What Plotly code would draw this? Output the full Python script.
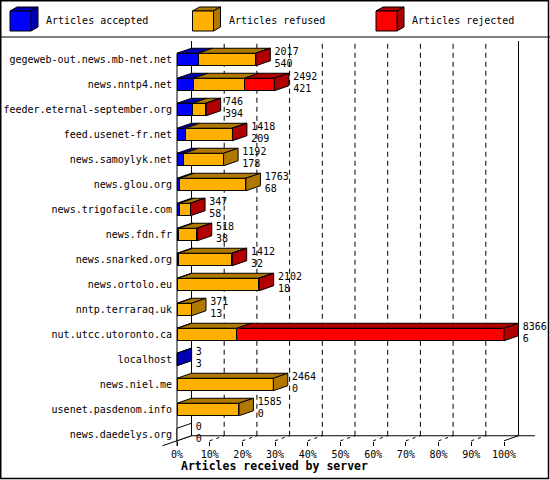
import plotly.graph_objects as go

servers = ["gegeweb-out.news.mb-net.net", "news.nntp4.net", "feeder.eternal-september.org",
           "feed.usenet-fr.net", "news.samoylyk.net", "news.glou.org", "news.trigofacile.com",
           "news.fdn.fr", "news.snarked.org", "news.ortolo.eu", "nntp.terraraq.uk",
           "nut.utcc.utoronto.ca", "localhost", "news.niel.me", "usenet.pasdenom.info",
           "news.daedelys.org"]
totals = [2017, 2492, 746, 1418, 1192, 1763, 347, 518, 1412, 2102, 371, 8366, 3, 2464, 1585, 0]
accepted = [540, 421, 394, 209, 178, 68, 58, 38, 32, 18, 13, 6, 3, 0, 0, 0]
refused = [1467, 1304, 340, 1200, 1014, 1695, 280, 472, 1370, 2074, 358, 1527, 0, 2464, 1585, 0]
rejected = [10, 767, 12, 9, 0, 0, 9, 8, 10, 10, 0, 6833, 0, 0, 0, 0]
tick_pcts = [0, 10, 20, 30, 40, 50, 60, 70, 80, 90, 100]
series_names = ["Articles accepted", "Articles refused", "Articles rejected"]

front_col = ["#0000FF", "#FFB000", "#FF0000"]
dark_col = ["#0000B0", "#B07800", "#B00000"]
FONT = "DejaVu Sans Mono"

# pixel geometry of the picture
W, HGT = 550, 480
L, R, T, B = 173, 548, 38, 441
PX0, PPU = 177, 3.27          # pixel of 0%, pixels per percent
ROW0, PITCH = 59.5, 25        # pixel of first row centre, row pitch
DX = 14.5 / PPU               # depth offset in percent
DY = 5.0 / PITCH              # depth offset in rows
H = 0.25                      # half height of a bar front

xr = [(L - PX0) / PPU, (R - PX0) / PPU]
yr = [(B - ROW0) / PITCH, (T - ROW0) / PITCH]


def pxx(px):
    return (px - L) / (R - L)


def pxy(py):
    return (B - py) / (B - T)


def dx2p(x):
    return pxx(PX0 + PPU * x)


def dy2p(y):
    return pxy(ROW0 + PITCH * y)


scale = 100.0 / max(totals)
segs = [[v * scale for v in s] for s in (accepted, refused, rejected)]
rows = list(range(len(servers)))
last = len(servers) - 1

fig = go.Figure()

# front faces
for k in range(3):
    fig.add_trace(go.Bar(y=rows, x=segs[k], orientation="h", width=2 * H,
                         marker=dict(color=front_col[k], line=dict(color="black", width=1)),
                         showlegend=False, hoverinfo="skip"))

# top faces
for k in range(3):
    xs, ys = [], []
    for i in rows:
        x0 = sum(segs[j][i] for j in range(k))
        w = segs[k][i]
        if w > 0:
            x1 = x0 + w
            xs += [x0, x1, x1 + DX, x0 + DX, x0, None]
            ys += [i - H, i - H, i - H - DY, i - H - DY, i - H, None]
    fig.add_trace(go.Scatter(x=xs, y=ys, mode="lines", fill="toself", fillcolor=dark_col[k],
                             line=dict(color="black", width=1), showlegend=False, hoverinfo="skip"))

# side faces, coloured like the last non-empty segment
for k in range(-1, 3):
    xs, ys = [], []
    for i in rows:
        nz = [j for j in range(3) if segs[j][i] > 0]
        lastk = nz[-1] if nz else -1
        if lastk != k:
            continue
        xe = sum(segs[j][i] for j in range(3))
        xs += [xe, xe + DX, xe + DX, xe, xe, None]
        ys += [i - H, i - H - DY, i + H - DY, i + H, i - H, None]
    fig.add_trace(go.Scatter(x=xs, y=ys, mode="lines", fill="toself",
                             fillcolor=dark_col[k] if k >= 0 else "white",
                             line=dict(color="black", width=1), showlegend=False, hoverinfo="skip"))

# value labels
lab_x = [t * scale + DX + 1.3 for t in totals]
fig.add_trace(go.Scatter(x=lab_x, y=[i - 0.3 for i in rows], mode="text", text=[str(v) for v in totals],
                         textposition="middle right", textfont=dict(family=FONT, size=10, color="black"),
                         cliponaxis=False, showlegend=False, hoverinfo="skip"))
fig.add_trace(go.Scatter(x=lab_x, y=[i + 0.2 for i in rows], mode="text", text=[str(v) for v in accepted],
                         textposition="middle right", textfont=dict(family=FONT, size=10, color="black"),
                         cliponaxis=False, showlegend=False, hoverinfo="skip"))

shapes = []
floor_front = last + H
floor_back = floor_front - DY
top_y = (41 - ROW0) / PITCH
for t in tick_pcts:
    solid = t in (0, 100)
    # back wall lines
    shapes.append(dict(type="line", xref="paper", yref="paper", layer="below",
                       x0=dx2p(t + DX), x1=dx2p(t + DX), y0=dy2p(floor_back), y1=dy2p(top_y),
                       line=dict(color="black", width=1, dash="solid" if solid else "5px,4px")))
    # floor diagonals
    xa = -DX if t == 0 else t
    ya = floor_front + DY if t == 0 else floor_front
    shapes.append(dict(type="line", xref="paper", yref="paper", layer="below",
                       x0=dx2p(xa), x1=dx2p(t + DX), y0=dy2p(ya), y1=dy2p(floor_back),
                       line=dict(color="black", width=1, dash="solid" if solid else "3px,4px")))
# back floor line
shapes.append(dict(type="line", xref="paper", yref="paper", layer="below",
                   x0=dx2p(DX), x1=dx2p(100 + DX + 5), y0=dy2p(floor_back), y1=dy2p(floor_back),
                   line=dict(color="black", width=1)))
# front left axis
shapes.append(dict(type="line", xref="paper", yref="paper", layer="below",
                   x0=dx2p(0), x1=dx2p(0), y0=dy2p(-H), y1=dy2p(floor_front + 0.2),
                   line=dict(color="black", width=1)))
# frame and legend separator
shapes.append(dict(type="rect", xref="paper", yref="paper", x0=pxx(0.75), x1=pxx(548.5),
                   y0=pxy(0.75), y1=pxy(478.5), line=dict(color="black", width=1.5)))
shapes.append(dict(type="line", xref="paper", yref="paper", x0=pxx(0), x1=pxx(550),
                   y0=pxy(37), y1=pxy(37), line=dict(color="black", width=1)))

# legend cubes
annotations = []
leg_x = [10, 192.5, 376]
for k in range(3):
    x0, x1, y0, y1 = leg_x[k], leg_x[k] + 21, 11, 31
    ddx, ddy = 7, 4
    shapes.append(dict(type="path", xref="paper", yref="paper",
                       path="M{},{} L{},{} L{},{} L{},{} Z".format(
                           pxx(x0), pxy(y0), pxx(x1), pxy(y0), pxx(x1 + ddx), pxy(y0 - ddy),
                           pxx(x0 + ddx), pxy(y0 - ddy)),
                       fillcolor=dark_col[k], line=dict(color="black", width=1)))
    shapes.append(dict(type="path", xref="paper", yref="paper",
                       path="M{},{} L{},{} L{},{} L{},{} Z".format(
                           pxx(x1), pxy(y0), pxx(x1 + ddx), pxy(y0 - ddy), pxx(x1 + ddx), pxy(y1 - ddy),
                           pxx(x1), pxy(y1)),
                       fillcolor=dark_col[k], line=dict(color="black", width=1)))
    shapes.append(dict(type="rect", xref="paper", yref="paper", x0=pxx(x0), x1=pxx(x1),
                       y0=pxy(y1), y1=pxy(y0), fillcolor=front_col[k], line=dict(color="black", width=1)))
    annotations.append(dict(xref="paper", yref="paper", x=pxx(x1 + 13), y=pxy(21), text=series_names[k],
                            showarrow=False, xanchor="left", yanchor="middle",
                            font=dict(family=FONT, size=10, color="black")))

annotations.append(dict(xref="paper", yref="paper", x=pxx(274), y=pxy(466),
                        text="<b>Articles received by server</b>", showarrow=False,
                        xanchor="center", yanchor="middle",
                        font=dict(family=FONT, size=11.5, color="black")))

fig.update_layout(
    width=W, height=HGT, barmode="stack",
    margin=dict(l=L, r=W - R, t=T, b=HGT - B, pad=0),
    paper_bgcolor="white", plot_bgcolor="white",
    shapes=shapes, annotations=annotations, showlegend=False,
    xaxis=dict(range=xr, tickvals=tick_pcts, ticktext=["{}%".format(t) for t in tick_pcts],
               ticks="outside", ticklen=4, tickcolor="black", showgrid=False, zeroline=False,
               showline=False, tickfont=dict(family=FONT, size=10, color="black"), fixedrange=True),
    yaxis=dict(range=yr, tickvals=rows, ticktext=servers, ticks="", showgrid=False, zeroline=False,
               showline=False, tickfont=dict(family=FONT, size=10, color="black"), fixedrange=True),
)

# the page's default body margin would shift the whole figure by 8px
fig.write_html("out.html", config={"displayModeBar": False},
               post_script="document.body.style.margin='0';")
